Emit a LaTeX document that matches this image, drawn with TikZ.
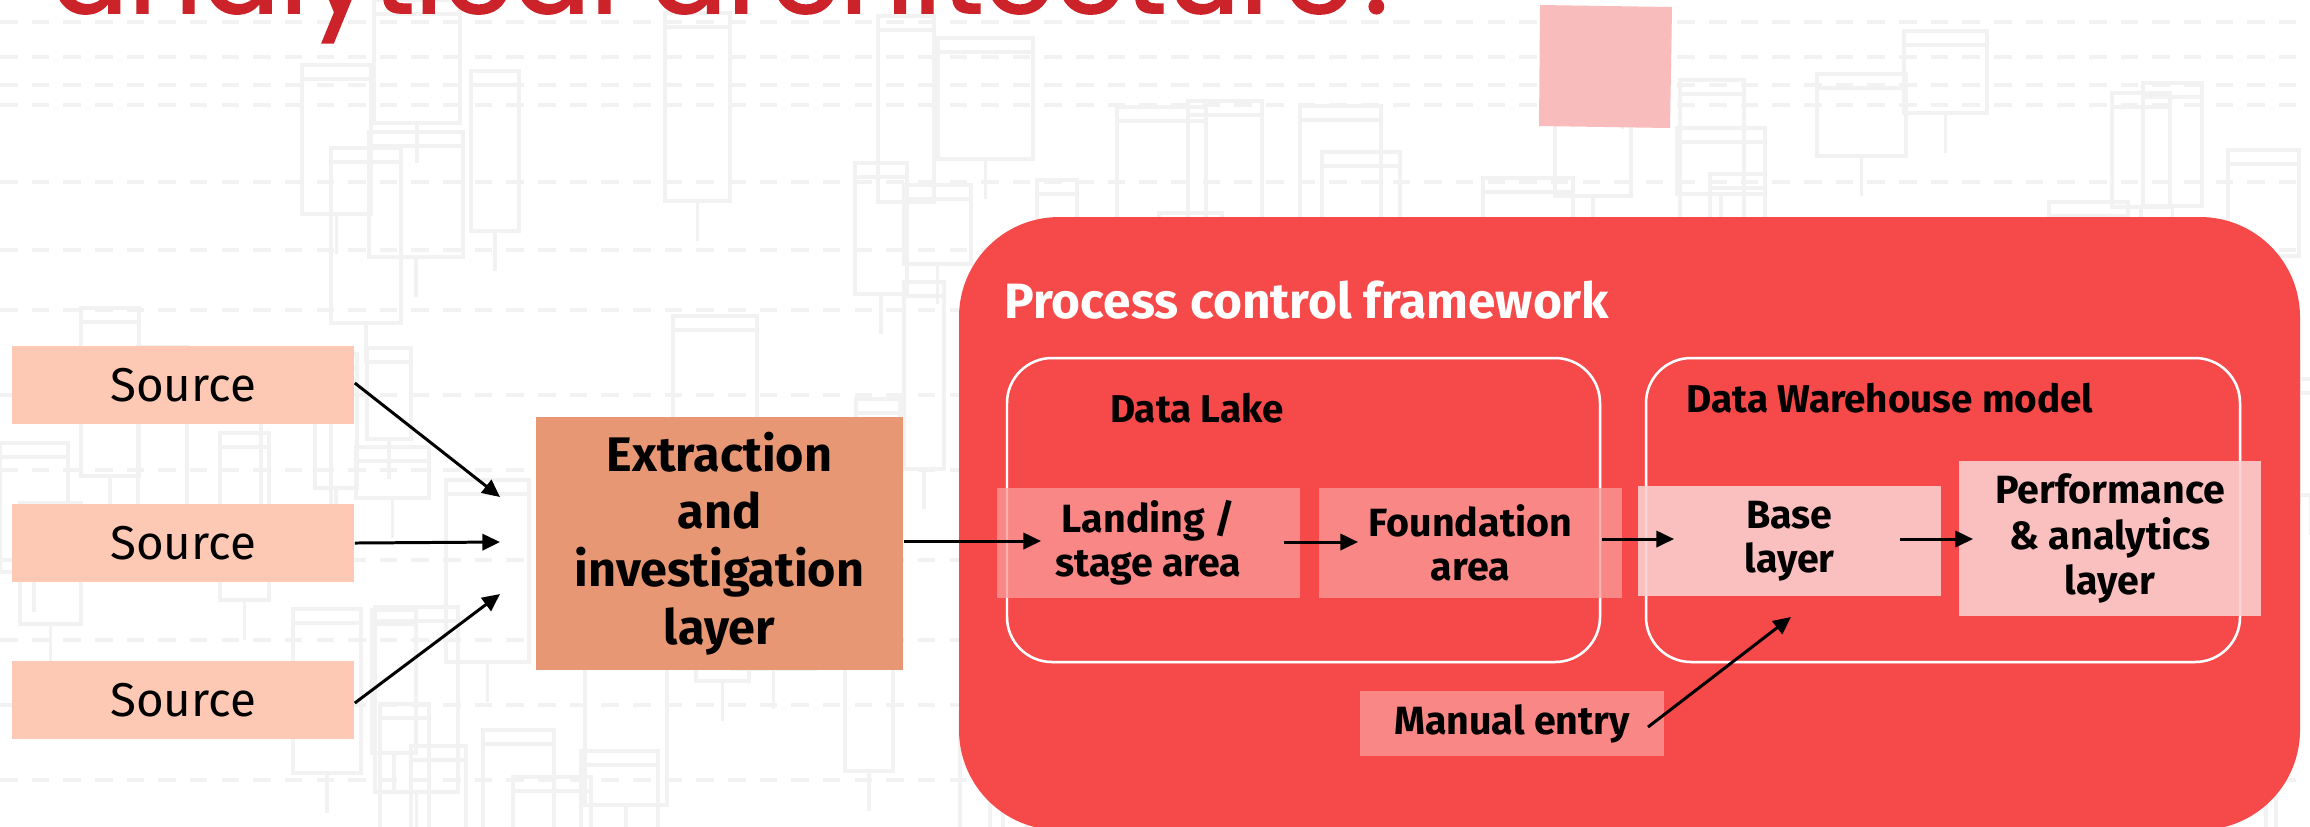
\documentclass[tikz,border=0pt]{standalone}
\usepackage{fontspec}
\setmainfont{Fira Sans}
\newfontfamily\titlefont[FakeBold=1.5]{Poppins}
\usetikzlibrary{arrows.meta,calc}
\definecolor{redbg}{HTML}{F64A4A}
\definecolor{pinkmid}{HTML}{F88786}
\definecolor{pinklight}{HTML}{FAC0BF}
\definecolor{sourcecol}{HTML}{FDC9B4}
\definecolor{extractcol}{HTML}{E89775}
\definecolor{titlered}{HTML}{CC2229}
\definecolor{squarecol}{HTML}{F9BCBC}
\definecolor{patterncol}{HTML}{F2F2F2}
\tikzset{
  sourcebox/.style={fill=sourcecol, inner sep=0pt, minimum width=3.42cm, minimum height=0.78cm,
    font=\fontsize{13.5}{16}\selectfont},
  extractbox/.style={fill=extractcol, inner sep=0pt, minimum width=3.67cm, minimum height=2.53cm,
    align=center, font=\fontsize{13.8}{16.4}\selectfont\bfseries},
  midbox/.style={fill=pinkmid, inner sep=0pt, minimum width=3.03cm, minimum height=1.10cm,
    align=center, font=\fontsize{11.2}{12.6}\selectfont\bfseries},
  lightbox/.style={fill=pinklight, inner sep=0pt, minimum width=3.03cm, minimum height=1.10cm,
    align=center, font=\fontsize{11.2}{12.6}\selectfont\bfseries},
  groupbox/.style={draw=white, line width=0.7pt, rounded corners=0.45cm},
  grouplabel/.style={font=\fontsize{11}{13}\selectfont\bfseries, inner sep=0pt},
  flow/.style={draw=black, line width=0.85pt, -{Triangle[length=5pt,width=4.6pt]}},
  pat/.style={draw=patterncol, line width=0.9pt},
  patdash/.style={draw=patterncol, line width=1pt, dash pattern=on 5pt off 4pt}
}
\begin{document}
\begin{tikzpicture}[x=0.01cm,y=-0.01cm]
\useasboundingbox (0,0) rectangle (2310,826);
\clip (0,0) rectangle (2310,826);
\fill[white] (0,0) rectangle (2310,826);

% faint background pattern
\pgfmathsetseed{4217}
\foreach \i in {1,...,90}{
  \pgfmathsetmacro\rx{random(0,2280)}
  \pgfmathsetmacro\ry{random(0,800)}
  \pgfmathsetmacro\rw{random(40,95)}
  \pgfmathsetmacro\rh{random(50,190)}
  \draw[pat] (\rx,\ry) rectangle ++(\rw,\rh);
  \draw[pat] (\rx,\ry+14) -- ++(\rw,0);
  \draw[pat] (\rx+\rw/2,\ry+\rh) -- ++(0,40);
}
\foreach \yy in {22,57,85,105,182,250,310,395,470,560,640,705,780}{
  \draw[patdash] (0,\yy) -- (2310,\yy);
}

% title (cut off at top)
\node[anchor=base west, inner sep=0pt, text=titlered, font=\titlefont\fontsize{32.7}{38}\selectfont]
  (title) at (50,13) {analytical architecture?};

% pink square
\fill[squarecol] (1540,5) -- (1672,7) -- (1670,128) -- (1539,126) -- cycle;

% big red framework panel
\fill[redbg, rounded corners=1.0cm] (959,217) rectangle (2300,830);
\node[anchor=base west, inner sep=0pt, text=white, font=\fontsize{14.1}{16}\selectfont\bfseries]
  (pcf) at (1004,318) {Process control framework};

% group outlines
\draw[groupbox] (1007,358) rectangle (1600,662);
\draw[groupbox] (1646,358) rectangle (2240,662);
\node[grouplabel, anchor=base] (dl) at (1197,422) {Data Lake};
\node[grouplabel, anchor=base] (dw) at (1890,412) {Data Warehouse model};

% sources
\node[sourcebox] (s1) at (183,385) {Source};
\node[sourcebox] (s2) at (183,543) {Source};
\node[sourcebox] (s3) at (183,700) {Source};

% extraction
\node[extractbox] (ext) at (719.5,543.5) {Extraction\\and\\investigation\\layer};

% inner boxes
\node[midbox] (land) at (1148.5,543) {Landing /\\stage area};
\node[midbox] (found) at (1470.5,543) {Foundation\\area};
\node[lightbox] (base) at (1789.5,541) {Base\\layer};
\node[lightbox, minimum width=3.02cm, minimum height=1.55cm, font=\fontsize{11.2}{13}\selectfont\bfseries] (perf) at (2110,538.5) {Performance\\\& analytics\\layer};
\node[midbox, minimum height=0.65cm] (manual) at (1512,723.5) {Manual entry};

% outlines showing faintly through the translucent boxes
\draw[groupbox, draw opacity=0.35] (1007,358) rectangle (1600,662);
\draw[groupbox, draw opacity=0.35] (1646,358) rectangle (2240,662);

% arrow end points
\coordinate (in1) at (500,497);
\coordinate (in2) at (500,542);
\coordinate (in3) at (500,594);
\coordinate (landin) at (1041,541);
\coordinate (landout) at (1284,542);
\coordinate (foundin) at (1358,542);
\coordinate (foundout) at (1602,539);
\coordinate (basein) at (1674,539);
\coordinate (baseout) at (1900,539);
\coordinate (perfin) at (1973,539);
\coordinate (manout) at (1648,727);
\coordinate (basebot) at (1791,617);

\draw[flow] (s1.east |- 0,383) -- (in1);
\draw[flow] (s2.east) -- (in2);
\draw[flow] (s3.east |- 0,703) -- (in3);
\draw[flow] (ext.east |- landin) -- (landin);
\draw[flow] (landout) -- (foundin);
\draw[flow] (foundout) -- (basein);
\draw[flow] (baseout) -- (perfin);
\draw[flow] (manout) -- (basebot);
\end{tikzpicture}
\end{document}
